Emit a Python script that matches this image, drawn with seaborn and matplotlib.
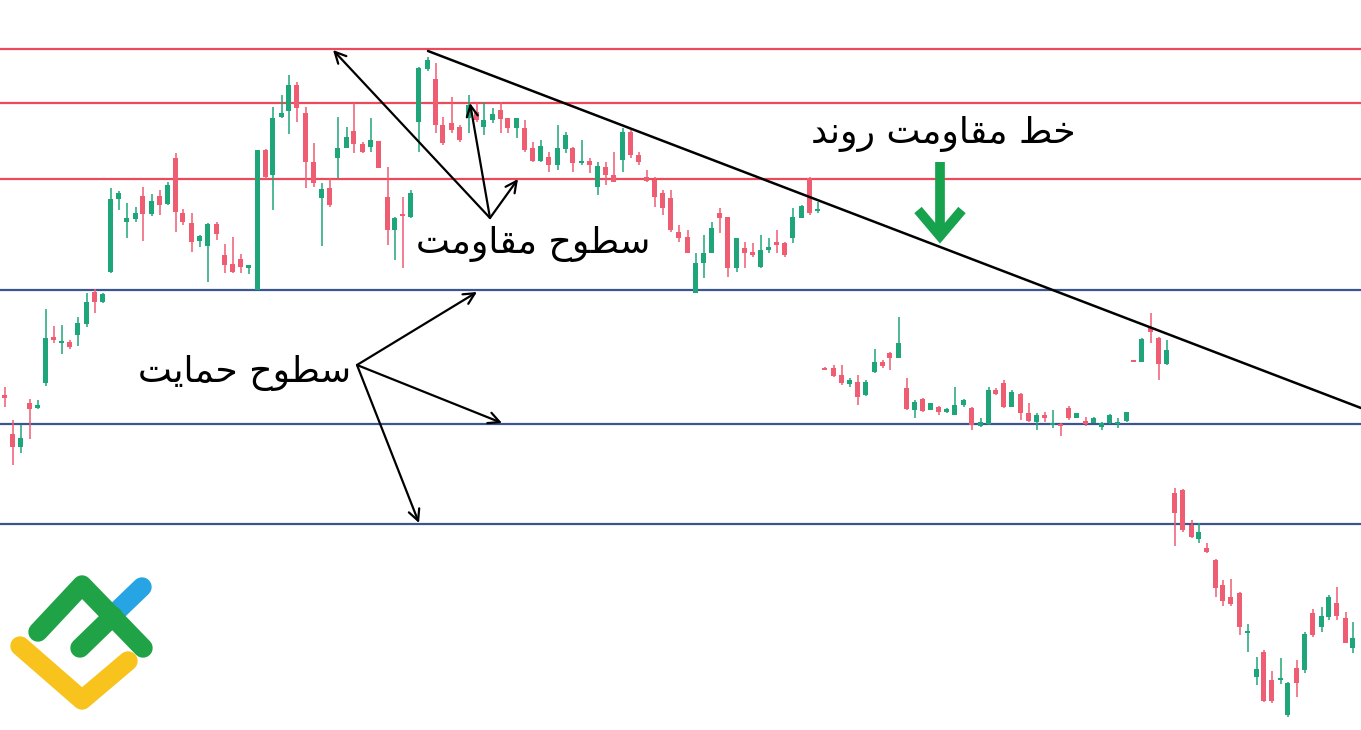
import numpy as np
import matplotlib
matplotlib.use('Agg')
import matplotlib.pyplot as plt
import seaborn as sns

# candles, y axis runs downward (screen levels)
t = [5, 13, 21, 30, 38, 46, 54, 62, 70, 78, 87, 95, 103, 111, 119, 127, 136, 143, 152, 160,
     168, 176, 183, 192, 200, 208, 217, 225, 233, 241, 249, 258, 266, 273, 282, 289, 297, 306, 314, 322,
     330, 338, 347, 354, 363, 371, 379, 388, 395, 403, 411, 419, 428, 436, 443, 452, 460, 469, 477, 484,
     493, 501, 508, 517, 525, 533, 541, 549, 558, 566, 573, 582, 590, 598, 606, 614, 623, 631, 639, 647,
     655, 663, 671, 679, 688, 696, 704, 712, 720, 728, 737, 745, 753, 761, 769, 777, 785, 793, 802, 810,
     818, 825, 834, 842, 850, 858, 866, 875, 883, 890, 899, 907, 915, 923, 931, 939, 947, 955, 964, 972,
     981, 989, 996, 1004, 1012, 1021, 1029, 1037, 1045, 1053, 1061, 1069, 1077, 1086, 1094, 1102, 1110, 1118, 1127, 1134,
     1142, 1151, 1159, 1167, 1175, 1183, 1192, 1199, 1207, 1216, 1223, 1231, 1240, 1248, 1257, 1264, 1272, 1281, 1288, 1297,
     1305, 1313, 1322, 1329, 1337, 1346, 1353]
o = [395, 434, 447, 403, 408, 383, 337, 343, 342, 335, 324, 292, 302, 272, 199, 222, 219, 196, 214, 196,
     204, 158, 213, 223, 241, 246, 224, 255, 264, 259, 268, 290, 150, 175, 117, 111, 85, 113, 162, 198,
     188, 158, 148, 131, 144, 147, 141, 197, 230, 214, 217, 122, 69, 79, 125, 123, 127, 118, 112, 127,
     120, 110, 118, 128, 128, 148, 161, 157, 165, 149, 148, 163, 161, 187, 167, 175, 160, 132, 155, 177,
     180, 193, 198, 232, 237, 293, 263, 253, 213, 217, 268, 248, 252, 267, 250, 242, 243, 238, 218, 178,
     211, 368, 368, 375, 384, 382, 395, 372, 362, 353, 358, 388, 410, 399, 410, 407, 412, 415, 405, 408,
     426, 424, 390, 383, 407, 394, 413, 422, 415, 425, 424, 408, 418, 421, 423, 427, 423, 424, 421, 360,
     362, 328, 338, 364, 493, 490, 525, 539, 548, 560, 585, 597, 593, 633, 677, 652, 680, 679, 715, 668,
     670, 613, 627, 617, 603, 618, 648]
h = [387, 420, 425, 399, 400, 309, 326, 325, 340, 317, 293, 289, 293, 188, 191, 203, 207, 187, 194, 190,
     182, 153, 209, 213, 235, 223, 222, 244, 237, 254, 265, 150, 149, 107, 95, 75, 82, 107, 143, 183,
     178, 117, 127, 103, 142, 118, 141, 167, 217, 197, 190, 67, 57, 63, 117, 97, 125, 95, 103, 102,
     108, 102, 118, 118, 120, 142, 140, 152, 125, 132, 147, 140, 158, 162, 162, 152, 128, 130, 152, 170,
     177, 190, 190, 225, 230, 253, 235, 222, 208, 217, 238, 242, 243, 235, 238, 230, 242, 208, 205, 177,
     202, 367, 365, 365, 378, 375, 380, 349, 360, 352, 317, 378, 400, 398, 403, 406, 408, 387, 399, 407,
     418, 387, 388, 380, 390, 393, 403, 413, 412, 410, 423, 406, 413, 417, 417, 422, 414, 418, 412, 360,
     338, 313, 337, 340, 488, 489, 520, 523, 543, 559, 580, 579, 592, 624, 657, 650, 671, 658, 682, 660,
     632, 609, 607, 595, 587, 612, 622]
l = [407, 465, 453, 439, 409, 386, 343, 354, 349, 346, 327, 313, 303, 273, 210, 238, 222, 241, 216, 215,
     205, 232, 225, 252, 247, 282, 240, 273, 273, 273, 274, 290, 179, 210, 118, 134, 122, 188, 187, 246,
     207, 178, 148, 153, 153, 152, 168, 245, 260, 268, 218, 152, 71, 133, 145, 133, 142, 133, 122, 135,
     123, 133, 133, 138, 152, 162, 162, 172, 170, 153, 172, 165, 173, 195, 185, 182, 172, 158, 165, 182,
     207, 215, 232, 242, 253, 293, 278, 253, 233, 277, 272, 268, 257, 268, 253, 253, 257, 243, 218, 215,
     213, 370, 377, 385, 387, 405, 396, 373, 368, 370, 358, 410, 418, 412, 410, 415, 413, 415, 407, 430,
     427, 425, 395, 408, 407, 420, 422, 430, 422, 428, 436, 420, 418, 426, 423, 430, 424, 428, 422, 362,
     362, 343, 380, 365, 546, 532, 538, 543, 553, 597, 606, 606, 635, 652, 685, 702, 703, 684, 717, 697,
     673, 637, 632, 620, 620, 643, 653]
c = [398, 447, 438, 409, 405, 338, 340, 341, 347, 323, 302, 302, 294, 199, 193, 218, 213, 214, 201, 205,
     185, 212, 222, 242, 236, 224, 234, 265, 272, 267, 265, 150, 177, 118, 113, 85, 108, 162, 183, 189,
     205, 148, 137, 144, 152, 140, 168, 230, 218, 216, 193, 68, 60, 125, 143, 130, 140, 105, 120, 120,
     114, 119, 128, 118, 150, 161, 146, 165, 148, 135, 163, 161, 165, 166, 175, 182, 132, 155, 162, 181,
     197, 208, 230, 238, 253, 263, 253, 228, 218, 268, 238, 253, 255, 250, 247, 245, 255, 217, 206, 213,
     209, 369, 376, 383, 380, 397, 382, 362, 366, 358, 343, 409, 402, 411, 403, 412, 409, 405, 400, 425,
     422, 390, 394, 407, 392, 413, 421, 415, 418, 423, 425, 418, 413, 424, 418, 423, 415, 422, 412, 362,
     339, 332, 364, 350, 513, 530, 537, 532, 552, 588, 601, 604, 627, 631, 669, 701, 701, 678, 683, 683,
     634, 635, 616, 597, 616, 643, 638]

resistance = [49, 103, 179]
support = [290, 424, 524]

# trend line end points (time, level)
trend_t = [428, 1361]
trend_y = [51, 408]

title_trend = 'خط مقاومت روند'
title_res = 'سطوح مقاومت'
title_sup = 'سطوح حمایت'

# tiny arabic shaping so matplotlib shows joined letters
forms = {
    'ا': ('\uFE8D', '\uFE8E', None, None),
    'ت': ('\uFE95', '\uFE96', '\uFE97', '\uFE98'),
    'ح': ('\uFEA1', '\uFEA2', '\uFEA3', '\uFEA4'),
    'خ': ('\uFEA5', '\uFEA6', '\uFEA7', '\uFEA8'),
    'د': ('\uFEA9', '\uFEAA', None, None),
    'ر': ('\uFEAD', '\uFEAE', None, None),
    'س': ('\uFEB1', '\uFEB2', '\uFEB3', '\uFEB4'),
    'ط': ('\uFEC1', '\uFEC2', '\uFEC3', '\uFEC4'),
    'ق': ('\uFED5', '\uFED6', '\uFED7', '\uFED8'),
    'م': ('\uFEE1', '\uFEE2', '\uFEE3', '\uFEE4'),
    'ن': ('\uFEE5', '\uFEE6', '\uFEE7', '\uFEE8'),
    'و': ('\uFEED', '\uFEEE', None, None),
    'ی': ('\uFEEF', '\uFEF0', '\uFEF3', '\uFEF4'),
}

def shape(s):
    out = []
    for i, ch in enumerate(s):
        if ch not in forms:
            out.append(ch)
            continue
        prev = s[i - 1] if i > 0 else ' '
        nxt = s[i + 1] if i < len(s) - 1 else ' '
        jp = prev in forms and forms[prev][2] is not None
        jn = forms[ch][2] is not None and nxt in forms
        if jp and jn:
            out.append(forms[ch][3])
        elif jp:
            out.append(forms[ch][1])
        elif jn:
            out.append(forms[ch][2])
        else:
            out.append(forms[ch][0])
    return ''.join(out[::-1])

sns.set_style('white')
plt.rcParams['font.family'] = ['DejaVu Sans']

fig = plt.figure(figsize=(13.61, 7.30), dpi=100)
ax = fig.add_axes([0, 0, 1, 1])

red = '#ef5d73'
green = '#1fa57a'

t = np.array(t)
o = np.array(o)
h = np.array(h)
l = np.array(l)
c = np.array(c)
col = np.where(c > o, red, green)

for lv in resistance:
    ax.axhline(lv, color='#ec4a5c', lw=1.6, zorder=1)
for lv in support:
    ax.axhline(lv, color='#3c5590', lw=1.6, zorder=1)

ax.vlines(t, h, l, colors=col, lw=1.1, zorder=2)
body_top = np.minimum(o, c)
body_h = np.maximum(np.abs(c - o), 1.5)
ax.bar(t, body_h, bottom=body_top, width=5, color=col, linewidth=0, zorder=3)

ax.plot(trend_t, trend_y, color='black', lw=1.8, zorder=4)

# arrows to resistance and support levels
arr = dict(arrowstyle='->', color='black', lw=1.6, mutation_scale=20, shrinkA=0, shrinkB=0)
for tip in [(333, 50), (470, 103), (518, 179)]:
    ax.annotate('', xy=tip, xytext=(490, 218), arrowprops=arr, zorder=5)
for tip in [(477, 292), (502, 423), (419, 523)]:
    ax.annotate('', xy=tip, xytext=(357, 365), arrowprops=arr, zorder=5)

ax.text(943, 134, shape(title_trend), fontsize=26, ha='center', va='center', color='black', zorder=6)
ax.text(533, 244, shape(title_res), fontsize=26, ha='center', va='center', color='black', zorder=6)
ax.text(245, 373, shape(title_sup), fontsize=26, ha='center', va='center', color='black', zorder=6)

# green down arrow
g2 = '#17a34d'
ax.plot([940, 940], [162, 234], color=g2, lw=7, solid_capstyle='butt', zorder=5)
ax.plot([918, 940, 962], [210, 236, 210], color=g2, lw=7, solid_capstyle='butt',
        solid_joinstyle='miter', zorder=5)

# logo
ax.plot([117, 142], [611, 587], color='#27a4e3', lw=14, solid_capstyle='round', zorder=6)
ax.plot([38, 82, 143], [632, 585, 648], color='#1fa346', lw=14, solid_capstyle='round',
        solid_joinstyle='round', zorder=7)
ax.plot([80, 113], [648, 616], color='#1fa346', lw=14, solid_capstyle='round', zorder=7)
ax.plot([20, 82, 128], [646, 700, 661], color='#f7c31c', lw=14, solid_capstyle='round',
        solid_joinstyle='round', zorder=7)

ax.set_xlim(0, 1361)
ax.set_ylim(730, 0)
ax.axis('off')

fig.savefig('out.png', dpi=100, facecolor='white')
